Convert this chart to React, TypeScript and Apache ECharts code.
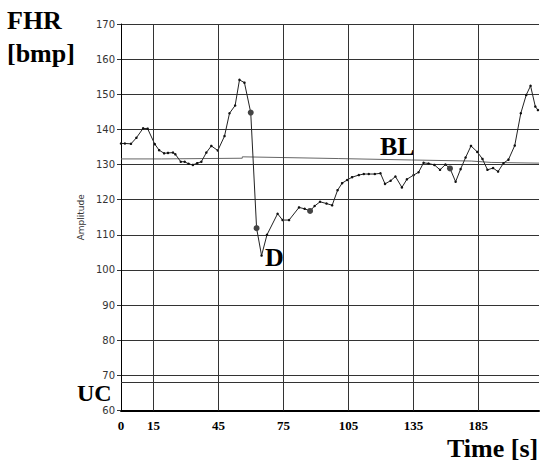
import React, { useEffect, useRef } from "react";
import * as echarts from "echarts";

// FHR curve: time (s) and beats per minute
const timeS = [0, 1.8, 4.6, 7.1, 10.2, 12.3, 15.6, 17.6, 19.9, 21.7, 24.0, 25.1, 27.6, 29.4, 31.2, 33.2, 35.2, 37.1, 39.4, 41.7, 44.7, 47.8, 50.1, 52.7, 54.7, 57.0, 59.9, 62.6, 64.9, 67.4, 72.3, 74.6, 77.6, 82.2, 84.8, 87.3, 89.4, 91.9, 94.9, 97.5, 100.0, 102.1, 104.4, 106.7, 109.8, 112.1, 114.4, 117.2, 119.8, 121.9, 124.5, 126.7, 129.7, 132.0, 135.1, 137.4, 139.7, 142.0, 144.7, 147.3, 149.8, 151.9, 154.5, 156.8, 159.1, 161.6, 164.5, 166.9, 169.2, 171.8, 174.1, 176.6, 178.9, 181.8, 184.6, 187.1, 189.1, 191.3, 192.5];
const fhr = [136.0, 136.0, 135.9, 137.6, 140.3, 140.2, 135.8, 134.1, 133.2, 133.3, 133.4, 132.9, 130.8, 130.8, 130.2, 129.9, 130.4, 130.8, 133.4, 135.3, 134.0, 138.1, 144.6, 146.8, 154.1, 153.3, 144.8, 111.9, 104.1, 110.0, 116.0, 114.2, 114.2, 117.8, 117.4, 116.8, 118.2, 119.4, 118.9, 118.4, 122.7, 124.7, 125.6, 126.4, 127.0, 127.3, 127.3, 127.3, 127.5, 124.5, 125.4, 126.6, 123.5, 125.8, 127.0, 127.8, 130.5, 130.3, 129.9, 128.5, 130.0, 128.9, 125.1, 128.7, 132.0, 135.3, 133.6, 131.6, 128.5, 129.0, 128.0, 130.4, 131.4, 135.4, 144.6, 149.8, 152.4, 146.5, 145.5];
const bigMarkerIdx = [26, 27, 35, 61];

// Baseline (BL)
const blTime = [0, 18.6, 18.6, 56, 56, 100.6, 134.1, 161.7, 170.9, 193];
const blValue = [131.6, 131.6, 131.8, 131.8, 132.2, 131.7, 131.3, 131.0, 130.6, 130.4];

// Uterine contraction reference line
const ucLevel = 68;

// Axis ticks
const xGridLines = [15, 45, 75, 105, 135, 165];
const xTickValues = [0, 15, 45, 75, 105, 135, 165];
const xTickLabels = ["0", "15", "45", "75", "105", "135", "185"];
const yMin = 60;
const yMax = 170;
const yStep = 10;
const xMax = 193;

export default function App() {
  const ref = useRef<HTMLDivElement>(null);
  useEffect(() => {
    if (!ref.current) return;
    const chart = echarts.init(ref.current, undefined, { renderer: "svg" });
    const serif = "'Liberation Serif', 'Times New Roman', serif";
    const bigText = (text: string, x: number, y: number, size = 26) => ({
      type: "text",
      left: x,
      top: y,
      style: { text, fill: "#000", font: `bold ${size}px ${serif}` },
    });
    chart.setOption({
      animation: false,
      backgroundColor: "#fff",
      grid: { left: 121, top: 24, width: 420, height: 386.5 },
      xAxis: {
        type: "value",
        min: 0,
        max: xMax,
        interval: 15,
        axisLine: { show: true, onZero: false, lineStyle: { color: "#000", width: 2 } },
        axisTick: { show: false },
        splitLine: { show: false },
        axisLabel: {
          margin: 8,
          color: "#000",
          fontFamily: serif,
          fontWeight: "bold",
          fontSize: 13,
          formatter: (v: number) => {
            const i = xTickValues.indexOf(v);
            return i >= 0 ? xTickLabels[i] : "";
          },
        },
      },
      yAxis: {
        type: "value",
        min: yMin,
        max: yMax,
        interval: yStep,
        name: "Amplitude",
        nameLocation: "middle",
        nameRotate: 90,
        nameGap: 34,
        nameTextStyle: { fontSize: 9, color: "#333", fontFamily: "'DejaVu Sans', sans-serif" },
        axisLine: { show: true, lineStyle: { color: "#000", width: 1 } },
        axisTick: { show: true, length: 4, lineStyle: { color: "#333" } },
        axisLabel: { margin: 6, fontSize: 10, color: "#333", fontFamily: "'DejaVu Sans', sans-serif" },
        splitLine: { show: true, lineStyle: { color: "#333", width: 1 } },
      },
      series: [
        {
          name: "BL",
          type: "line",
          z: 1,
          symbol: "none",
          lineStyle: { color: "#666", width: 1 },
          data: blTime.map((t, i) => [t, blValue[i]]),
          markLine: {
            silent: true,
            symbol: ["none", "none"],
            label: { show: false },
            lineStyle: { color: "#333", width: 1, type: "solid" },
            data: [...xGridLines.map((v) => ({ xAxis: v })), { yAxis: ucLevel }],
          },
        },
        {
          name: "FHR",
          type: "line",
          z: 3,
          symbol: "circle",
          symbolSize: 2.5,
          showSymbol: true,
          itemStyle: { color: "#111" },
          lineStyle: { color: "#222", width: 1 },
          data: timeS.map((t, i) =>
            bigMarkerIdx.includes(i)
              ? { value: [t, fhr[i]], symbolSize: 6, itemStyle: { color: "#444" } }
              : [t, fhr[i]]
          ),
        },
      ],
      graphic: [
        bigText("FHR", 7, 7),
        bigText("[bmp]", 7, 40),
        bigText("BL", 380, 133),
        bigText("D", 265, 244),
        bigText("UC", 77, 381, 24),
        bigText("Time [s]", 447, 435),
      ],
    });
    return () => chart.dispose();
  }, []);
  return (
    <div
      ref={ref}
      style={{ position: "fixed", left: 0, top: 0, width: 542, height: 462 }}
    />
  );
}
